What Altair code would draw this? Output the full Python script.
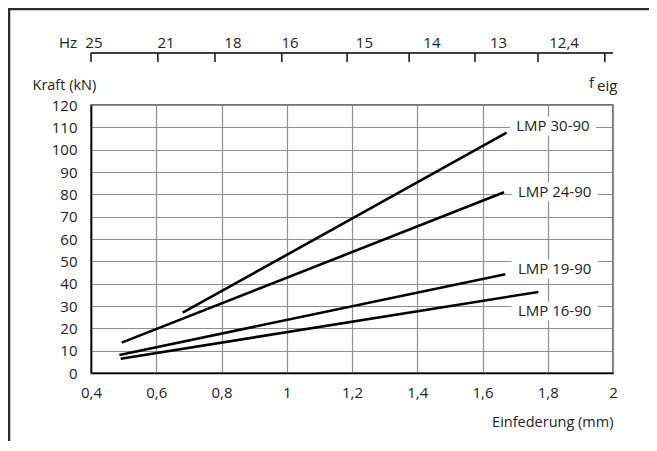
import altair as alt
import pandas as pd

FONT = "Open Sans"
TXT = "#222222"

# ---- data ----
series = ["LMP 30-90", "LMP 24-90", "LMP 19-90", "LMP 16-90"]
x_start = [0.681, 0.494, 0.487, 0.491]
y_start = [27.0, 13.6, 8.1, 6.4]
x_end = [1.674, 1.666, 1.670, 1.771]
y_end = [107.6, 80.9, 44.2, 36.3]

label_x = [1.816, 1.821, 1.821, 1.821]
label_y = [110.6, 81.2, 46.4, 27.8]

x_ticks = [0.4, 0.6, 0.8, 1.0, 1.2, 1.4, 1.6, 1.8, 2.0]
y_ticks = [0, 10, 20, 30, 40, 50, 60, 70, 80, 90, 100, 110, 120]
x_domain = [0.4, 2.0]
y_domain = [0, 120]

# top frequency scale (Hz), positions in mm on the same x scale
hz_tick_pos = [0.4, 0.605, 0.780, 0.985, 1.185, 1.375, 1.577, 1.770, 1.975]
hz_label_pos = [0.409, 0.630, 0.835, 1.010, 1.238, 1.445, 1.649, 1.850]
hz_labels = ["25", "21", "18", "16", "15", "14", "13", "12,4"]

W, H = 522, 268
FS = 15

xs = alt.Scale(domain=x_domain, nice=False, zero=False)
ys = alt.Scale(domain=y_domain, nice=False, zero=False)

x_axis = alt.Axis(values=x_ticks, grid=True, ticks=False, tickSize=0,
                  labelExpr="replace(format(datum.value, '~g'), '.', ',')",
                  labelFlush=False, labelOverlap=False,
                  labelPadding=12, title="Einfederung (mm)",
                  titleX=W, titleY=49, titleAlign="right",
                  titleBaseline="middle", titleAnchor="end",
                  domainColor="#000000", domainWidth=1.6)
y_axis = alt.Axis(values=y_ticks, grid=True, ticks=False, tickSize=0,
                  labelFlush=False, labelOverlap=False,
                  labelPadding=14, title="Kraft (kN)",
                  titleX=-59, titleY=-20, titleAngle=0,
                  titleAlign="left", titleBaseline="middle",
                  domainColor="#000000", domainWidth=1.6)

rows = []
for s, x0, y0, x1, y1 in zip(series, x_start, y_start, x_end, y_end):
    rows.append({"series": s, "x": x0, "y": y0})
    rows.append({"series": s, "x": x1, "y": y1})
lines_df = pd.DataFrame(rows)
labels_df = pd.DataFrame({"series": series, "x": label_x, "y": label_y})
hz_ticks_df = pd.DataFrame({"x": hz_tick_pos})
hz_labels_df = pd.DataFrame({"x": hz_label_pos, "label": hz_labels})
hz_line_df = pd.DataFrame({"x": [x_domain[0]], "x2": [x_domain[1]]})
one = pd.DataFrame({"k": [0]})

X = alt.X("x:Q", scale=xs, axis=x_axis)
Y = alt.Y("y:Q", scale=ys, axis=y_axis)

lines = alt.Chart(lines_df).mark_line(color="#000000", strokeWidth=2.6).encode(
    x=X, y=Y, detail="series:N",
)

boxes = alt.Chart(labels_df).mark_rect(width=86, height=19, color="white").encode(
    x=X, y=Y,
)

texts = alt.Chart(labels_df).mark_text(font=FONT, fontSize=FS, color=TXT,
                                       align="center", baseline="middle").encode(
    x=X, y=Y, text="series:N",
)

hz_line = alt.Chart(hz_line_df).mark_rule(color="#000000", strokeWidth=1.4).encode(
    x=X, x2="x2:Q", y=alt.value(-52)
)
hz_ticks = alt.Chart(hz_ticks_df).mark_rule(color="#000000", strokeWidth=1.4).encode(
    x=X, y=alt.value(-52), y2=alt.value(-43)
)
hz_text = alt.Chart(hz_labels_df).mark_text(font=FONT, fontSize=FS, color=TXT,
                                            align="center", baseline="alphabetic").encode(
    x=X, y=alt.value(-57.5), text="label:N"
)
hz_unit = alt.Chart(one).mark_text(font=FONT, fontSize=FS, color=TXT, align="right",
                                   baseline="alphabetic", text="Hz").encode(
    x=alt.value(-14), y=alt.value(-57.5)
)
f_main = alt.Chart(one).mark_text(font=FONT, fontSize=FS, color=TXT, align="left",
                                  baseline="alphabetic", text="f").encode(
    x=alt.value(498), y=alt.value(-17)
)
f_sub = alt.Chart(one).mark_text(font=FONT, fontSize=FS, color=TXT, align="left",
                                 baseline="alphabetic", text="eig").encode(
    x=alt.value(506), y=alt.value(-14.5)
)
frame_left = alt.Chart(one).mark_rule(color="#2b2b2b", strokeWidth=2.5).encode(
    x=alt.value(-82), y=alt.value(-97), y2=alt.value(H + 68)
)
frame_top = alt.Chart(one).mark_rule(color="#2b2b2b", strokeWidth=2.5).encode(
    x=alt.value(-83), x2=alt.value(W + 36), y=alt.value(-96)
)

chart = alt.layer(
    lines, boxes, texts, hz_line, hz_ticks, hz_text, hz_unit, f_main, f_sub,
    frame_left, frame_top,
).properties(
    width=W, height=H,
    autosize=alt.AutoSizeParams(type="none"),
    padding={"left": 83, "top": 97, "right": 36, "bottom": 68},
    background="white",
).configure_view(
    stroke="#444444", strokeWidth=1.5
).configure_axis(
    gridColor="#8f8f8f", gridWidth=1.2, gridOpacity=1,
    labelFont=FONT, labelFontSize=FS, labelColor=TXT,
    titleFont=FONT, titleFontSize=14.5, titleColor=TXT, titleFontWeight="normal",
)

chart.save("out.html", embed_options={"renderer": "svg", "actions": False})
